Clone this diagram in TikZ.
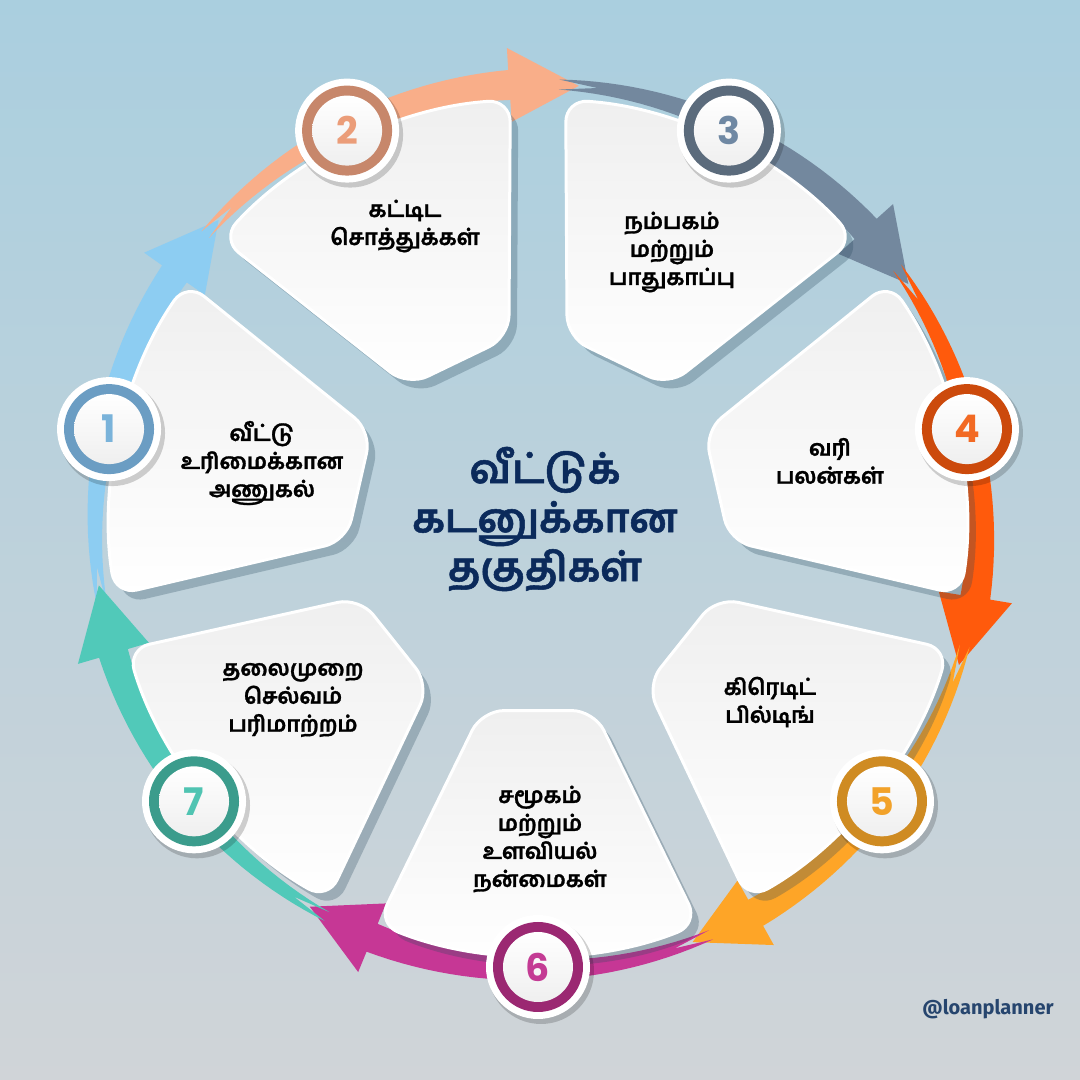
\documentclass[tikz,border=0pt]{standalone}
\usepackage{fontspec}
\usetikzlibrary{calc}
\newfontfamily\tamil[Script=Tamil, BoldFeatures={FakeBold=1.3}]{Hind Madurai}
\newfontfamily\numfont{Poppins}
\newfontfamily\tagfont{Fira Sans}
\definecolor{bgtop}{HTML}{AACFDF}
\definecolor{bgbot}{HTML}{D0D4D8}
\definecolor{arr1}{HTML}{8DCDF2}
\definecolor{arr2}{HTML}{F9AE89}
\definecolor{arr3}{HTML}{73889E}
\definecolor{arr4}{HTML}{FF5A0C}
\definecolor{arr5}{HTML}{FEA527}
\definecolor{arr6}{HTML}{C63795}
\definecolor{arr7}{HTML}{51C9B9}
\definecolor{ring1}{HTML}{6B9DC3}
\definecolor{ring2}{HTML}{C7876B}
\definecolor{ring3}{HTML}{5B6B7C}
\definecolor{ring4}{HTML}{CC4A0C}
\definecolor{ring5}{HTML}{CF8B22}
\definecolor{ring6}{HTML}{9B2872}
\definecolor{ring7}{HTML}{3B9C8C}
\definecolor{num1}{HTML}{7AB3DA}
\definecolor{num2}{HTML}{EB9D79}
\definecolor{num3}{HTML}{6F88A3}
\definecolor{num4}{HTML}{F26A24}
\definecolor{num5}{HTML}{F2A22A}
\definecolor{num6}{HTML}{C43B94}
\definecolor{num7}{HTML}{50C4B2}
\definecolor{navy}{HTML}{0B2A5B}
\definecolor{tagc}{HTML}{26456E}
\definecolor{cardtop}{HTML}{EFEFEF}
\definecolor{shadowc}{HTML}{2A4A5E}
\tikzset{
  cardtext/.style={align=center, text=black, font=\tamil\bfseries\fontsize{22}{28}\selectfont},
  titletext/.style={align=center, text=navy, font=\tamil\bfseries\fontsize{40}{49}\selectfont},
  numtext/.style={font=\numfont\bfseries\fontsize{38}{38}\selectfont},
  cardshadow/.style={fill=shadowc, fill opacity=0.28},
  cardbody/.style={top color=cardtop, bottom color=white, draw=white, line width=3pt},
}
\begin{document}
\begin{tikzpicture}[x=1pt,y=1pt]
% background
\shade[top color=bgtop, bottom color=bgbot] (-538,527) rectangle (542,-553);
\useasboundingbox (-538,527) rectangle (542,-553);
% arrows
\foreach \k/\col in {1/arr1,2/arr2,3/arr3,4/arr4,5/arr5,6/arr6,7/arr7}{
  \pgfmathsetmacro\th{167.1429-(\k-1)*51.4286}
  \pgfmathsetmacro\ta{\th+23}
  \pgfmathsetmacro\tn{\th+18}
  \pgfmathsetmacro\tb{\th-22}
  \pgfmathsetmacro\tc{\th-31}
  \fill[\col] plot[domain=0:1,samples=30] ({\ta-(\ta-\tb)*\x}:{443+5+10*\x})
     -- ({\tb}:{480}) -- ({\tc}:443) -- ({\tb}:{406})
     -- plot[domain=0:1,samples=30] ({\tb+(\ta-\tb)*\x}:{443-15+10*\x})
     -- ({\tn}:443) -- cycle;
}
% cards
\foreach \k in {1,...,7}{
  \pgfmathsetmacro\th{167.1429-(\k-1)*51.4286}
  \fill[cardshadow, shift={(8,-9)}, rounded corners=22]
     ({\th+17}:192) -- ({\th+22}:428) arc[start angle={\th+22}, end angle={\th-22}, radius=428]
     -- ({\th-17}:192) -- cycle;
  \shade[cardbody, rounded corners=22]
     ({\th+17}:192) -- ({\th+22}:428) arc[start angle={\th+22}, end angle={\th-22}, radius=428]
     -- ({\th-17}:192) -- cycle;
}
% number circles
\foreach \k in {1,...,7}{
  \pgfmathsetmacro\th{167.1429-(\k-1)*51.4286}
  \fill[black, opacity=0.18] ($({\th}:440)+(3,-4)$) circle[radius=53];
  \fill[white] ({\th}:440) circle[radius=52];
  \fill[ring\k] ({\th}:440) circle[radius=45];
  \shade[top color=white, bottom color=cardtop] ({\th}:440) circle[radius=35];
  \node[numtext, text=num\k] (n\k) at ({\th}:440) {\k};
}
% card texts
\node[cardtext] (t1) at (-276,64) {வீட்டு\\உரிமைக்கான\\அணுகல்};
\node[cardtext] (t2) at (-133,301) {கட்டிட\\சொத்துக்கள்};
\node[cardtext] (t3) at (134,275) {நம்பகம்\\மற்றும்\\பாதுகாப்பு};
\node[cardtext] (t4) at (292,66) {வரி\\பலன்கள்};
\node[cardtext] (t5) at (232,-175) {கிரெடிட்\\பில்டிங்};
\node[cardtext] (t6) at (2,-312) {சமூகம்\\மற்றும்\\உளவியல்\\நன்மைகள்};
\node[cardtext] (t7) at (-245,-173) {தலைமுறை\\செல்வம்\\பரிமாற்றம்};
% title
\node[titletext] (title) at (7,8) {வீட்டுக்\\கடனுக்கான\\தகுதிகள்};
% tag
\node[text=tagc, font=\tagfont\bfseries\fontsize{20}{20}\selectfont] (tag) at (450,-482) {@loanplanner};
\end{tikzpicture}
\end{document}
